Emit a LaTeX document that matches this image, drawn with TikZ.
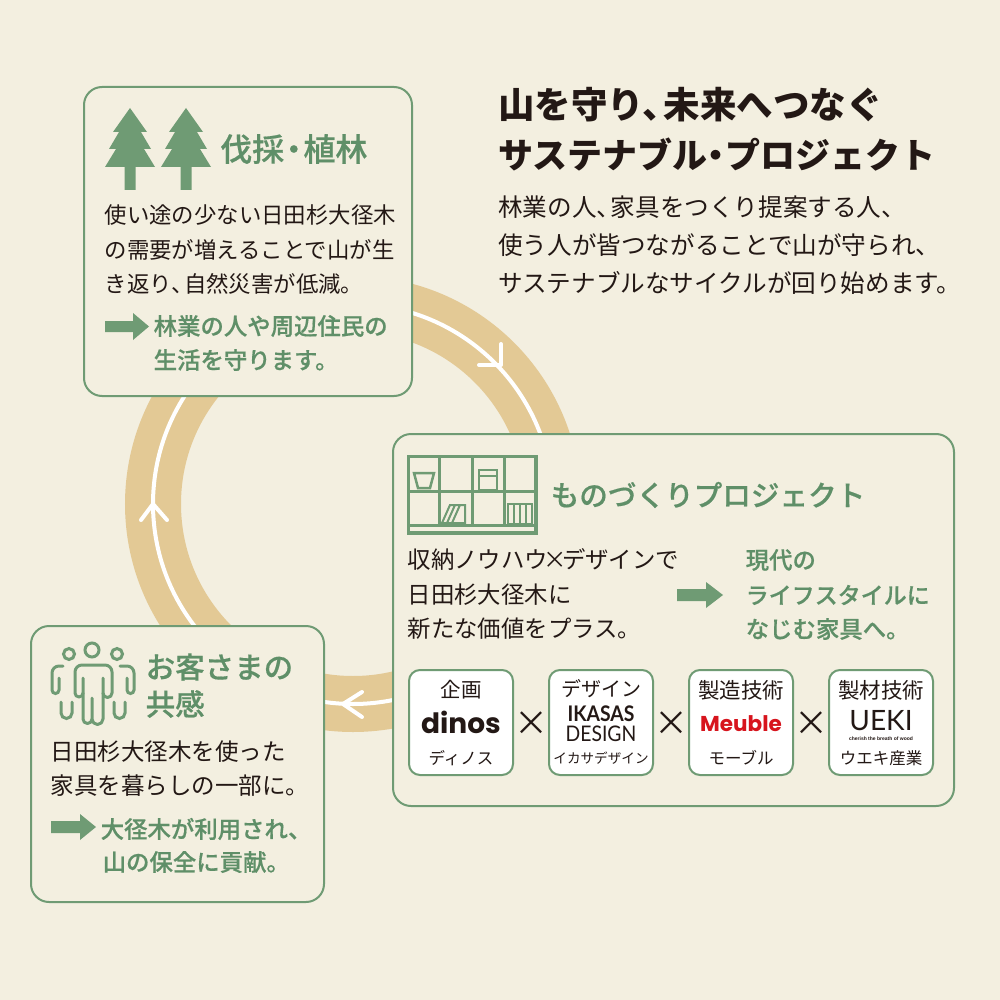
\documentclass[tikz,border=0pt]{standalone}
\usepackage{fontspec}
\setmainfont{Noto Sans CJK JP}
\newfontfamily\medf[FakeBold=0.5]{Noto Sans CJK JP Medium}
\newfontfamily\logoa{Poppins}
\newfontfamily\logob{Lato}
\newfontfamily\logoc{Liberation Sans}
\definecolor{bgc}{HTML}{F3EFE0}
\definecolor{grn}{HTML}{6F9B74}
\definecolor{grt}{HTML}{5F8F68}
\definecolor{ink}{HTML}{231815}
\definecolor{ringc}{HTML}{E3C995}
\definecolor{redl}{HTML}{D7141D}
\newcommand{\fs}[1]{\fontsize{#1}{#1}\selectfont}
\newcommand{\tc}{、\kern-.42em}
\newcommand{\tx}{\kern-.2em×\kern-.2em}
\tikzset{
  panel/.style={draw=grn,line width=2pt,fill=bgc,rounded corners=18pt},
  logobox/.style={draw=grn,line width=2pt,fill=white,rounded corners=11pt},
  txt/.style={anchor=west,inner sep=0pt,text=ink},
  head/.style={anchor=west,inner sep=0pt,text=grt,font=\medf\fs{30}},
  gtxt/.style={anchor=west,inner sep=0pt,text=grt,font=\medf\fs{23.4}},
  btxt/.style={txt,font=\fs{23.4}},
  ptxt/.style={txt,font=\fs{24.6}},
  ttl/.style={txt,font=\fs{35}\bfseries},
  lab/.style={inner sep=0pt,text=ink,font=\fs{20.5}},
  sub/.style={inner sep=0pt,text=ink,font=\fs{16.5}},
  crs/.style={inner sep=0pt,text=ink,font=\fs{34}},
  icon/.style={draw=grn,line width=3pt,fill=none},
  fillic/.style={fill=grn,draw=none},
  chev/.style={draw=white,line width=4pt,line cap=round,line join=round}
}
\begin{document}
\begin{tikzpicture}[x=1pt,y=-1pt]
\useasboundingbox (0,0) rectangle (1000,1000);
\fill[bgc] (0,0) rectangle (1000,1000);
% ring
\coordinate (rc) at (353,504);
\draw[ringc,line width=56pt] (rc) circle[radius=200pt];
\draw[white,line width=4pt] (rc) circle[radius=200pt];
\draw[chev] (479,365) -- (501,365) -- (501,344);
\draw[chev] (141,520) -- (153,504) -- (167,520);
\draw[chev] (362,692) -- (343,704) -- (362,717);
% panels
\draw[panel] (84,87) rectangle (412,396);
\draw[panel] (393,434) rectangle (954,806);
\draw[panel] (31,626) rectangle (324,902);
% title
\node[ttl,font=\fs{36.5}\bfseries] (t1) at (498,105) {山を守り\tc 未来へつなぐ};
\node[ttl] (t2) at (498,155) {サステナブル\kern-.25em・\kern-.25emプロジェクト};
\node[ptxt] (p1) at (498,207) {林業の人\tc 家具をつくり提案する人、};
\node[ptxt] (p2) at (498,245) {使う人が皆つながることで山が守られ、};
\node[ptxt] (p3) at (498,283) {サステナブルなサイクルが回り始めます。};
% trees
\foreach \c in {130,186}{
 \fill[fillic] (\c,108) -- (\c+17,132) -- (\c+11,132) -- (\c+21,149) -- (\c+14,149) -- (\c+25,167) -- (\c+5.5,167) -- (\c+5.5,190) -- (\c-5.5,190) -- (\c-5.5,167) -- (\c-25,167) -- (\c-14,149) -- (\c-21,149) -- (\c-11,132) -- (\c-17,132) -- cycle;
}
\node[head,font=\medf\fs{32}] (h1) at (220,149) {伐採\kern-.2em・\kern-.2em植林};
\node[btxt,font=\fs{22.4}] (b1) at (104.5,215) {使い途の少ない日田杉大径木};
\node[btxt,font=\fs{22.4}] (b2) at (104.5,250) {の需要が増えることで山が生};
\node[btxt,font=\fs{22.4}] (b3) at (104.5,284) {き返り\tc 自然災害が低減。};
\fill[fillic] (105,321) -- (133,321) -- (133,313) -- (149,326.5) -- (133,340) -- (133,332) -- (105,332) -- cycle;
\node[gtxt] (g1) at (153.5,326) {林業の人や周辺住民の};
\node[gtxt] (g2) at (153.5,360) {生活を守ります。};
% shelf
\draw[icon,line width=3.5pt] (408.5,456.5) rectangle (536,533);
\draw[icon] (439,456) -- (439,525) (472,456) -- (472,525) (504,456) -- (504,525) (408,491) -- (536,491) (408,525) -- (536,525);
\draw[icon,line width=2.5pt] (414,473) -- (434,473) -- (430,488) -- (418,488) -- cycle;
\draw[icon,line width=2.5pt] (479,470) rectangle (497,490) (479,476) -- (497,476);
\draw[icon,line width=2pt] (442,523) -- (450,505) -- (455,505) -- (447,523) -- cycle (447,523) -- (455,505) -- (460,505) -- (452,523) (460,505) -- (465,505) -- (465,523) -- (447,523);
\draw[icon,line width=2pt] (508,504) rectangle (532,524) (514,504) -- (514,524) (520,504) -- (520,524) (526,504) -- (526,524);
\node[head,font=\medf\fs{28.6}] (h2) at (550.5,495) {ものづくりプロジェクト};
\node[btxt] (c1) at (407.5,559) {収納ノウハウ\tx デザインで};
\node[btxt] (c2) at (407.5,595) {日田杉大径木に};
\node[btxt] (c3) at (407.5,629) {新たな価値をプラス。};
\fill[fillic] (677,589) -- (706,589) -- (706,582) -- (723,595) -- (706,608) -- (706,601) -- (677,601) -- cycle;
\node[gtxt] (d1) at (745.5,560) {現代の};
\node[gtxt,font=\medf\fs{23}] (d2) at (745.5,595) {ライフスタイルに};
\node[gtxt] (d3) at (745.5,629) {なじむ家具へ。};
% logo boxes
\draw[logobox] (409,670) rectangle (513,775);
\draw[logobox] (549,670) rectangle (653,775);
\draw[logobox] (689,670) rectangle (793,775);
\draw[logobox] (829,670) rectangle (933,775);
\node[crs] (x1) at (531,724) {×};
\node[crs] (x2) at (671,724) {×};
\node[crs] (x3) at (811,724) {×};
\node[lab] (l1) at (461,690) {企画};
\node[inner sep=0pt,text=ink,font=\logoa\fs{28}\bfseries] (l1b) at (461,722) {dinos};
\node[sub] (l1c) at (461,758) {ディノス};
\node[lab,font=\fs{20}] (l2) at (601,689) {デザイン};
\node[inner sep=0pt,text=ink,font=\logob\fs{21.5}\bfseries] (l2b) at (601,713.5) {\scalebox{.9}[1]{IKASAS}};
\node[inner sep=0pt,text=ink,font=\logob\fs{21.5}] (l2c) at (601,734) {\scalebox{.9}[1]{DESIGN}};
\node[sub,font=\fs{13.6}] (l2d) at (601,758) {イカサデザイン};
\node[lab,font=\fs{21.5}] (l3) at (741,690) {製造技術};
\node[inner sep=0pt,text=redl,font=\logoa\fs{21.5}\bfseries] (l3b) at (741,724) {Meuble};
\node[sub] (l3c) at (741,758) {モーブル};
\node[lab,font=\fs{21.5}] (l4) at (881,690) {製材技術};
\node[inner sep=0pt,text=ink,font=\logob\fs{28}] (l4b) at (881,721) {UEKI};
\node[inner sep=0pt,text=ink,font=\logoc\fs{5}\bfseries] (l4c) at (881,738.5) {cherish the breath of wood};
\node[sub] (l4d) at (881,758) {ウエキ産業};
% people
\draw[icon] (92,650) circle[radius=7pt] (69,654) circle[radius=5.5pt] (117,654) circle[radius=5.5pt];
\draw[icon,line join=round,line cap=round] (83,678) -- (83,693) arc[start angle=0,end angle=-180,radius=4pt] -- (75,672) arc[start angle=180,end angle=90,radius=7pt] -- (105,665) arc[start angle=90,end angle=0,radius=7pt] -- (112,693) arc[start angle=0,end angle=-180,radius=4.5pt] -- (103,678);
\draw[icon,line join=round,line cap=round] (83,693) -- (83,719) arc[start angle=180,end angle=360,radius=4.5pt] -- (92,698) (92,719) arc[start angle=180,end angle=360,radius=5.5pt] -- (103,693);
\draw[icon,line cap=round] (63,666) -- (59,666) arc[start angle=90,end angle=180,radius=7pt] -- (52,690) arc[start angle=180,end angle=360,radius=3.5pt] -- (59,678);
\draw[icon,line cap=round] (61,702) -- (61,713) arc[start angle=180,end angle=360,radius=5.5pt] -- (72,702);
\draw[icon,line cap=round] (120,666) -- (127,666) arc[start angle=90,end angle=0,radius=7pt] -- (134,690) arc[start angle=0,end angle=-180,radius=3.5pt] -- (127,678);
\draw[icon,line cap=round] (125,702) -- (125,713) arc[start angle=0,end angle=-180,radius=5.5pt] -- (114,702);
\node[head,font=\medf\fs{29.5}] (h3) at (145.5,667) {お客さまの};
\node[head,font=\medf\fs{29.5}] (h4) at (145.5,704) {共感};
\node[btxt,font=\fs{23.5}] (e1) at (50.5,752) {日田杉大径木を使った};
\node[btxt,font=\fs{23.5}] (e2) at (50.5,786) {家具を暮らしの一部に。};
\fill[fillic] (51,821) -- (80,821) -- (80,814) -- (96,827) -- (80,840) -- (80,833) -- (51,833) -- cycle;
\node[gtxt] (f1) at (100.5,829) {大径木が利用され、};
\node[gtxt] (f2) at (102.5,862) {山の保全に貢献。};
\end{tikzpicture}
\end{document}
